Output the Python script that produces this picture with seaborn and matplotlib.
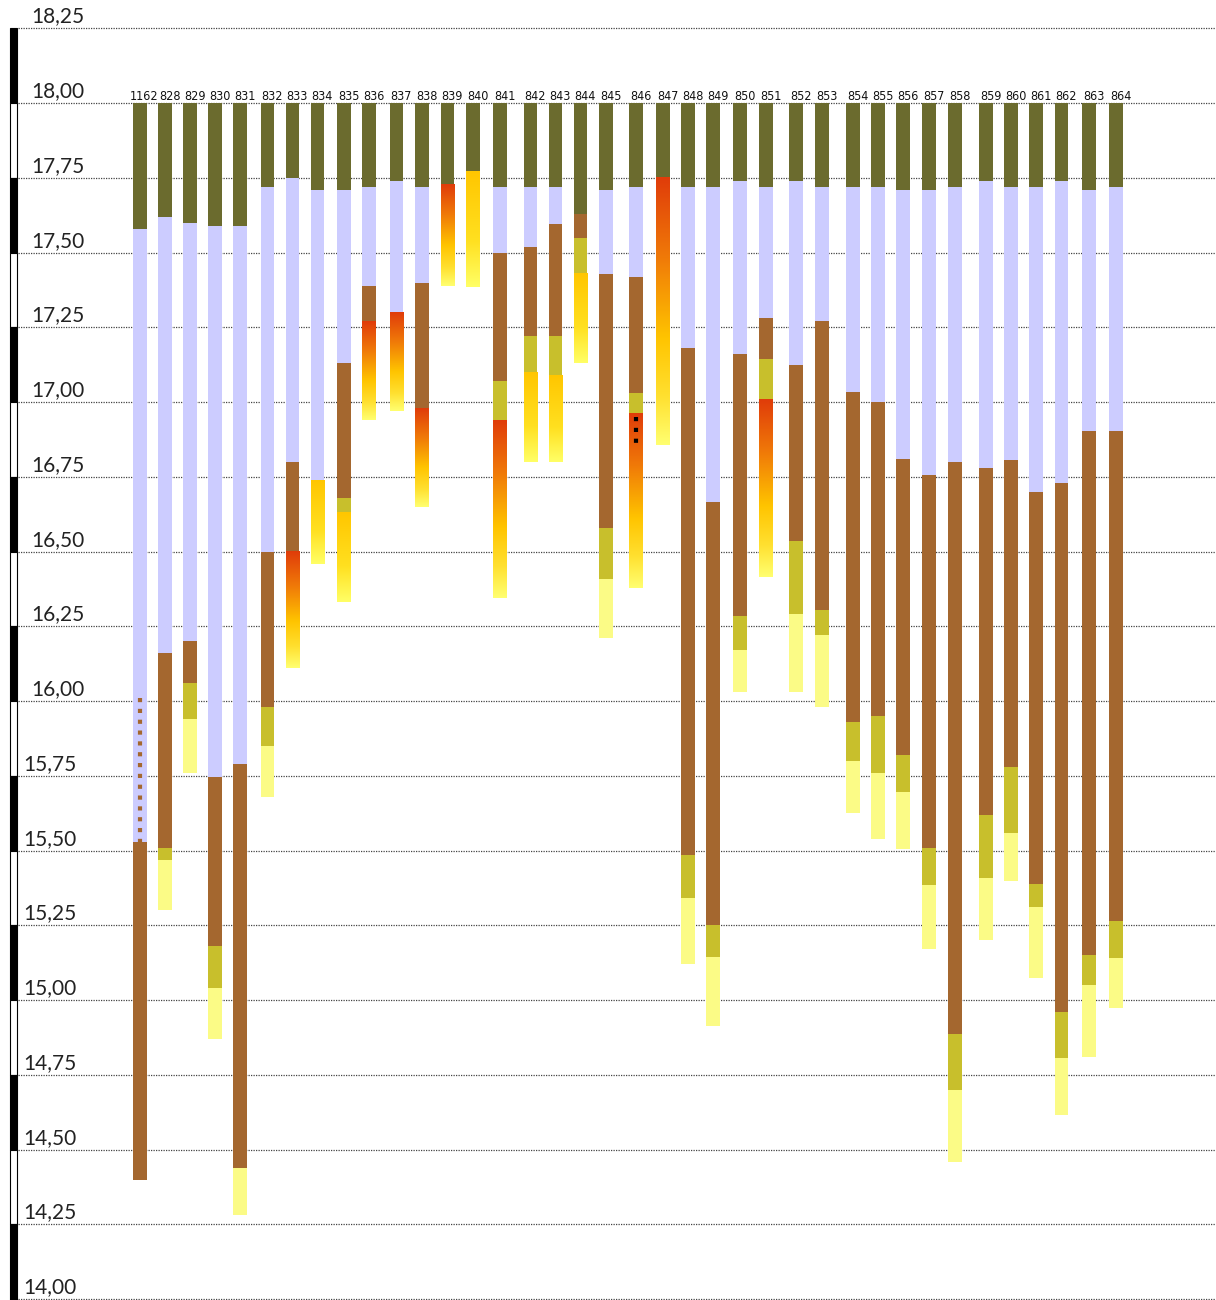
import numpy as np
import pandas as pd
import matplotlib
matplotlib.use("Agg")
import matplotlib.pyplot as plt
from matplotlib.colors import LinearSegmentedColormap
import seaborn as sns

# borehole logs along the profile, elevations in m (top of every log = 18,00)
stations = ["1162", "828", "829", "830", "831", "832", "833", "834", "835", "836",
            "837", "838", "839", "840", "841", "842", "843", "844", "845", "846",
            "847", "848", "849", "850", "851", "852", "853", "854", "855", "856",
            "857", "858", "859", "860", "861", "862", "863", "864"]
# position along the profile (m)
station_pos = [0.0, 0.98, 1.95, 2.93, 3.91, 4.98, 5.96, 6.93, 7.97, 8.95,
               10.02, 11.02, 12.01, 13.0, 14.06, 15.25, 16.23, 17.21, 18.2, 19.38,
               20.43, 21.41, 22.38, 23.44, 24.45, 25.63, 26.64, 27.85, 28.83, 29.8,
               30.82, 31.84, 33.05, 34.02, 35.0, 36.0, 37.07, 38.13]
surface = 18.00

# base of each unit; None = unit absent in that log
olive_base = [17.58, 17.62, 17.60, 17.59, 17.59, 17.72, 17.75, 17.71, 17.71, 17.72,
              17.74, 17.72, 17.73, 17.77, 17.72, 17.72, 17.72, 17.63, 17.71, 17.72,
              17.75, 17.72, 17.72, 17.74, 17.72, 17.74, 17.72, 17.72, 17.72, 17.71,
              17.71, 17.72, 17.74, 17.72, 17.72, 17.74, 17.71, 17.72]
lav_base = [15.53, 16.16, 16.20, 15.745, 15.79, 16.50, 16.80, 16.74, 17.13, 17.39,
            17.30, 17.40, None, None, 17.50, 17.52, 17.595, None, 17.43, 17.42,
            None, 17.18, 16.665, 17.16, 17.28, 17.125, 17.27, 17.035, 17.00, 16.81,
            16.755, 16.80, 16.78, 16.805, 16.70, 16.73, 16.905, 16.905]
brown_base = [14.40, 15.51, 16.06, 15.18, 14.44, 15.98, 16.50, None, 16.68, 17.27,
              None, 16.98, None, None, 17.07, 17.22, 17.22, 17.55, 16.58, 17.03,
              None, 15.485, 15.25, 16.285, 17.145, 16.535, 16.305, 15.93, 15.95, 15.82,
              15.51, 14.885, 15.62, 15.78, 15.39, 14.96, 15.15, 15.265]
yg_base = [None, 15.47, 15.94, 15.04, None, 15.85, None, None, 16.63, None,
           None, None, None, None, 16.94, 17.10, 17.09, 17.43, 16.41, 16.965,
           None, 15.34, 15.145, 16.17, 17.01, 16.29, 16.22, 15.80, 15.76, 15.695,
           15.385, 14.70, 15.41, 15.56, 15.31, 14.805, 15.05, 15.14]
bottom_base = [None, 15.30, 15.76, 14.87, 14.28, 15.68, 16.11, 16.46, 16.33, 16.94,
               16.97, 16.65, 17.39, 17.385, 16.345, 16.80, 16.80, 17.13, 16.21, 16.38,
               16.855, 15.12, 14.915, 16.03, 16.415, 16.03, 15.98, 15.625, 15.54, 15.505,
               15.17, 14.46, 15.20, 15.40, 15.075, 14.615, 14.81, 14.975]
bottom_kind = [None, "ly", "ly", "ly", "ly", "ly", "fire", "gold", "gold", "fire",
               "fire", "fire", "fire", "gold", "fire", "gold", "gold", "gold", "ly", "fire",
               "fire", "ly", "ly", "ly", "fire", "ly", "ly", "ly", "ly", "ly",
               "ly", "ly", "ly", "ly", "ly", "ly", "ly", "ly"]

# dotted markers inside logs (station, top, base)
dots_1162 = ("1162", 16.01, 15.53)
dots_846 = ("846", 16.95, 16.85)

y_levels = [18.25, 18.00, 17.75, 17.50, 17.25, 17.00, 16.75, 16.50, 16.25,
            16.00, 15.75, 15.50, 15.25, 15.00, 14.75, 14.50, 14.25, 14.00]
y_labels = ["18,25", "18,00", "17,75", "17,50", "17,25", "17,00", "16,75", "16,50", "16,25",
            "16,00", "15,75", "15,50", "15,25", "15,00", "14,75", "14,50", "14,25", "14,00"]

colors = {"olive": "#6B6B2E", "lav": "#CCCCFF", "brown": "#A4672F",
          "yg": "#C8BF2C", "ly": "#FBFB86"}
fire_cmap = LinearSegmentedColormap.from_list(
    "fire", [(0, "#E03C0A"), (0.3, "#F07A08"), (0.6, "#FFC400"), (0.82, "#FFE030"), (1, "#FFFF70")])
gold_cmap = LinearSegmentedColormap.from_list(
    "gold", [(0, "#FFC600"), (0.6, "#FFE020"), (1, "#FFFF66")])

# build a segment table
rows = []
for i, st in enumerate(stations):
    top = surface
    for unit, bases in [("olive", olive_base), ("lav", lav_base), ("brown", brown_base), ("yg", yg_base)]:
        b = bases[i]
        if b is None:
            continue
        rows.append(dict(station=st, pos=station_pos[i], unit=unit, top=top, base=b))
        top = b
    if bottom_kind[i] is not None:
        rows.append(dict(station=st, pos=station_pos[i], unit=bottom_kind[i], top=top, base=bottom_base[i]))
segs = pd.DataFrame(rows)

sns.set_theme(style="white")
plt.rcParams["font.family"] = ["Lato", "DejaVu Sans"]

fig = plt.figure(figsize=(12.16, 13.0), dpi=100)
ax = fig.add_axes([0, 0, 1, 1])
bw = 0.53

# gridlines
ax.hlines(y_levels, -4.77, 42.03, colors="#444444", linestyles=(0, (1, 1)), linewidth=0.9, zorder=1)

# solid units
solid = segs[segs["unit"].isin(colors.keys())]
for unit, g in solid.groupby("unit"):
    ax.bar(g["pos"], g["top"] - g["base"], bottom=g["base"], width=bw,
           color=colors[unit], linewidth=0, zorder=3)

# gradient units
grad = np.linspace(0, 1, 256).reshape(-1, 1)
for _, r in segs[segs["unit"].isin(["fire", "gold"])].iterrows():
    cmap = fire_cmap if r["unit"] == "fire" else gold_cmap
    ax.imshow(grad, cmap=cmap, aspect="auto", origin="upper", interpolation="bilinear",
              extent=(r["pos"] - bw / 2, r["pos"] + bw / 2, r["base"], r["top"]), zorder=3)

# dotted markers
for (st, t, b), c in [(dots_1162, colors["brown"]), (dots_846, "black")]:
    x = station_pos[stations.index(st)]
    ax.plot([x, x], [t, b], color=c, linestyle=(0, (1, 1.6)), linewidth=3.0, zorder=4)

# scale bar on the left
for k in range(len(y_levels) - 1):
    top, base = y_levels[k], y_levels[k + 1]
    if k == len(y_levels) - 2:
        base = 13.99
    black = (k % 2 == 0)
    ax.bar(-4.94, top - base, bottom=base, width=0.27,
           color="black" if black else "white", edgecolor="black", linewidth=0.8, zorder=2)

# level labels
for v, lab in zip(y_levels, y_labels):
    x = -4.26 if v >= 16.0 else -4.57
    ax.text(x, v + 0.02, lab, ha="left", va="baseline", fontsize=15, color="#222222")

# station labels (left-aligned on the log, 4-digit label nudged left)
for st, x in zip(stations, station_pos):
    shift = -0.12 if len(st) > 3 else 0.03
    ax.text(x - bw / 2 + shift, surface + 0.011, st, ha="left", va="baseline", fontsize=9,
            family=["Liberation Sans Narrow", "DejaVu Sans"], fontstretch="condensed", color="#111111")

ax.set_xlim(-5.47, 42.03)
ax.set_ylim(13.997, 18.345)
ax.axis("off")

fig.savefig("out.png", dpi=100)
